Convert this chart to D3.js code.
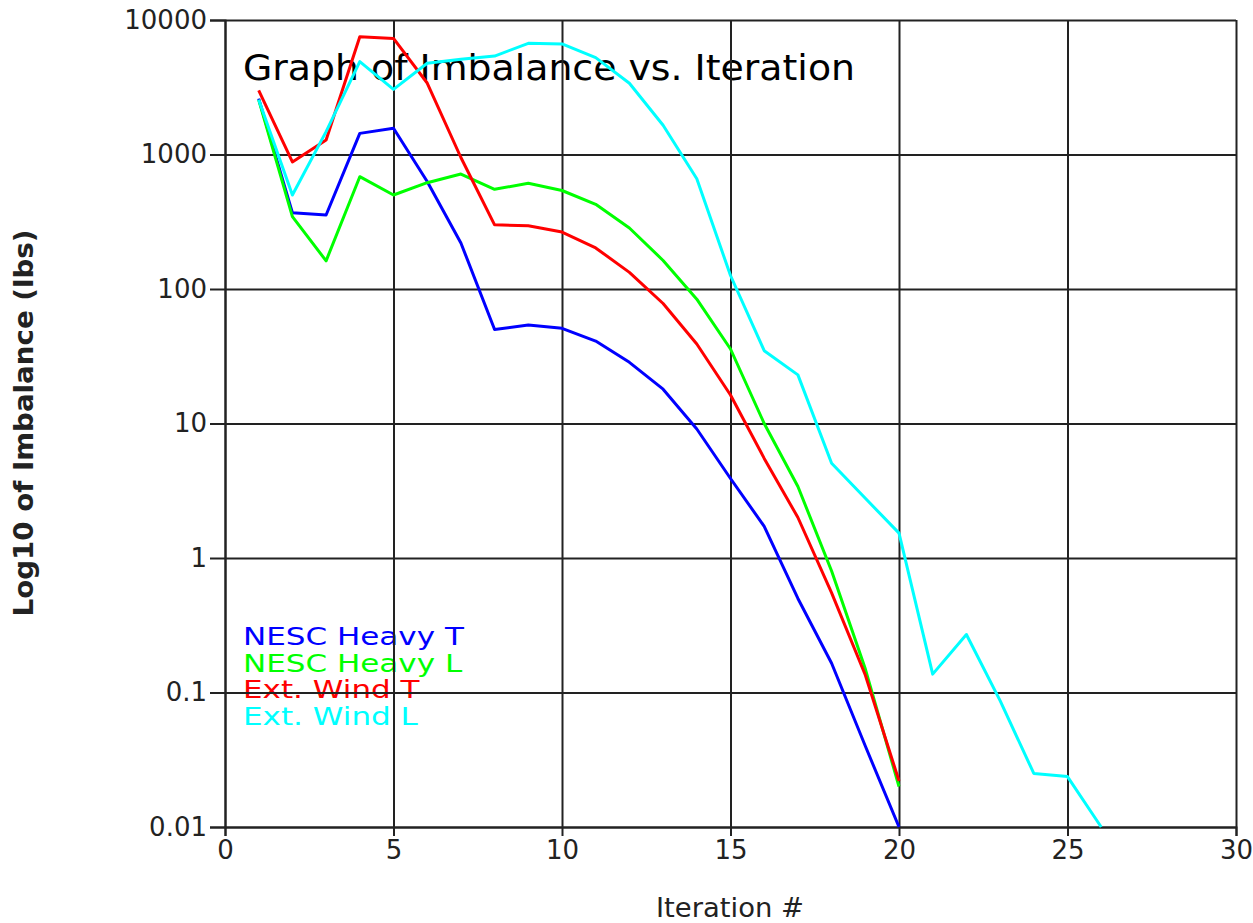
<!DOCTYPE html>
<html>
<head>
<meta charset="utf-8">
<script src="https://cdn.jsdelivr.net/npm/d3@7"></script>
<style>
  body { margin: 0; background: #fff; }
  text { font-family: "DejaVu Sans", sans-serif; }
</style>
</head>
<body>
<script>
// iteration numbers for each series
const iterT = d3.range(1, 21);
const iterWindL = d3.range(1, 27);

// imbalance values (lbs)
const nescHeavyT = [2600, 369, 355, 1436, 1566, 630, 220, 50, 54, 51, 41, 28.5, 18, 9.1, 3.9, 1.72, 0.5, 0.165, 0.04, 0.01];
const nescHeavyL = [2550, 345, 162, 684, 500, 617, 716, 551, 611, 540, 426, 284, 163, 84, 35.8, 10, 3.4, 0.8, 0.15, 0.02];
const extWindT = [3000, 880, 1280, 7500, 7300, 3400, 950, 300, 295, 265, 202, 133, 78, 39, 16.3, 5.5, 2.0, 0.55, 0.135, 0.022];
const extWindL = [2550, 500, 1480, 4900, 3050, 4770, 5100, 5390, 6710, 6640, 5250, 3390, 1650, 661, 126, 34.8, 23, 5.06, 2.78, 1.53, 0.137, 0.27, 0.087, 0.025, 0.0237, 0.01];

const seriesNames = ["NESC Heavy T", "NESC Heavy L", "Ext. Wind T", "Ext. Wind L"];
const seriesColors = ["#0000ff", "#00ff00", "#ff0000", "#00ffff"];

const xTicks = [0, 5, 10, 15, 20, 25, 30];
const yTicks = [0.01, 0.1, 1, 10, 100, 1000, 10000];
const yTickLabels = ["0.01", "0.1", "1", "10", "100", "1000", "10000"];

const W = 1253, H = 923;
const plotL = 225, plotR = 1236, plotT = 20, plotB = 827;

const svg = d3.select("body").append("svg")
    .attr("width", W)
    .attr("height", H);

const x = d3.scaleLinear().domain([0, 30]).range([plotL, plotR]);
const y = d3.scaleLog().domain([0.01, 10000]).range([plotB, plotT]);

// title, under the grid and lines
svg.append("text")
    .attr("x", 243)
    .attr("y", 80)
    .attr("font-size", 36)
    .attr("textLength", 612)
    .attr("lengthAdjust", "spacingAndGlyphs")
    .attr("fill", "#000")
    .text("Graph of Imbalance vs. Iteration");

// legend as coloured text, stretched wider like the original font
svg.append("g").selectAll("text")
    .data(seriesNames)
    .join("text")
        .attr("x", 243)
        .attr("y", (d, i) => 645 + i * 26.7)
        .attr("font-size", 25)
        .attr("fill", (d, i) => seriesColors[i])
        .text(d => d)
        .each(function() {
            const w = this.getComputedTextLength();
            d3.select(this)
                .attr("textLength", w * 1.24)
                .attr("lengthAdjust", "spacingAndGlyphs");
        });

// grid
const grid = svg.append("g").attr("class", "grid");
grid.append("g")
    .attr("transform", `translate(0,${plotB})`)
    .call(d3.axisBottom(x).tickValues(xTicks).tickSize(-(plotB - plotT)).tickFormat(""))
    .call(g => g.select(".domain").remove());
grid.append("g")
    .attr("transform", `translate(${plotL},0)`)
    .call(d3.axisLeft(y).tickValues(yTicks).tickSize(-(plotR - plotL)).tickFormat(""))
    .call(g => g.select(".domain").remove());
grid.selectAll("line").attr("stroke", "#222").attr("stroke-width", 2);

// axes with short outer ticks and labels
const xAxis = svg.append("g")
    .attr("transform", `translate(0,${plotB})`)
    .call(d3.axisBottom(x).tickValues(xTicks).tickSize(9).tickPadding(3));
const yAxis = svg.append("g")
    .attr("transform", `translate(${plotL},0)`)
    .call(d3.axisLeft(y).tickValues(yTicks).tickSize(15).tickPadding(3)
        .tickFormat((d, i) => yTickLabels[i]));
[xAxis, yAxis].forEach(a => {
    a.selectAll("line").attr("stroke", "#222").attr("stroke-width", 2);
    a.select(".domain").attr("stroke", "#222").attr("stroke-width", 2);
    a.selectAll("text")
        .attr("font-family", "DejaVu Sans, sans-serif")
        .attr("font-size", 26)
        .attr("fill", "#222");
});
xAxis.selectAll("text").attr("dy", "0.78em");

// axis titles
svg.append("text")
    .attr("x", 730)
    .attr("y", 917)
    .attr("text-anchor", "middle")
    .attr("font-size", 26)
    .attr("textLength", 148)
    .attr("lengthAdjust", "spacingAndGlyphs")
    .attr("fill", "#222")
    .text("Iteration #");
svg.append("text")
    .attr("transform", "translate(33,423) rotate(-90)")
    .attr("text-anchor", "middle")
    .attr("font-size", 26)
    .attr("font-weight", "bold")
    .attr("textLength", 387)
    .attr("lengthAdjust", "spacingAndGlyphs")
    .attr("fill", "#222")
    .text("Log10 of Imbalance (lbs)");

// series lines
const series = [
    { iter: iterT, vals: nescHeavyT },
    { iter: iterT, vals: nescHeavyL },
    { iter: iterT, vals: extWindT },
    { iter: iterWindL, vals: extWindL }
];
const line = d3.line()
    .x(d => x(d[0]))
    .y(d => y(d[1]));

svg.append("g").selectAll("path")
    .data(series)
    .join("path")
        .attr("fill", "none")
        .attr("stroke", (d, i) => seriesColors[i])
        .attr("stroke-width", 3)
        .attr("stroke-linejoin", "round")
        .attr("d", d => line(d.iter.map((it, k) => [it, d.vals[k]])));
</script>
</body>
</html>
